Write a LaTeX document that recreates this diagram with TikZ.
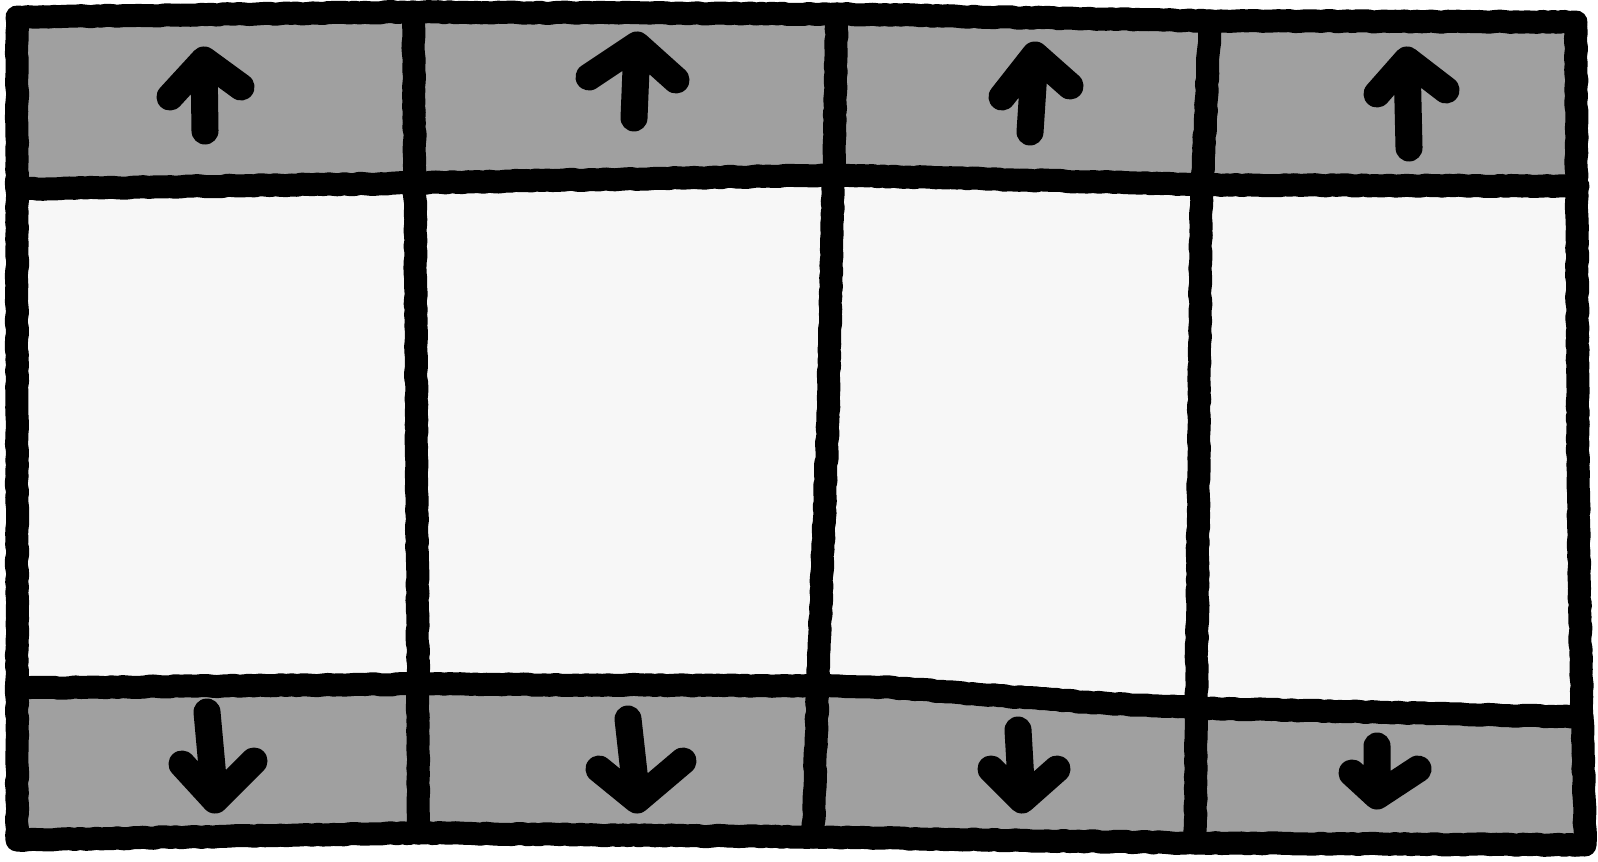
\documentclass[tikz,border=0pt]{standalone}
\usepackage{xcolor}
\usetikzlibrary{decorations.pathmorphing}
\definecolor{bandgray}{RGB}{160,160,160}
\definecolor{cellwhite}{RGB}{247,247,247}

\begin{document}
\begin{tikzpicture}[x=0.01cm, y=-0.01cm,
  inkline/.style={line width=0.23cm, line cap=round, line join=round,
    decorate, decoration={random steps, segment length=1.5pt, amplitude=.2pt}},
  inkarrow/.style={line width=0.27cm, line cap=round, line join=round}
  ]
  \useasboundingbox (0,0) rectangle (1598,861);
  % grid corners
  \coordinate (t0) at (17,17);   \coordinate (t1) at (413,12);
  \coordinate (t2) at (837,14);  \coordinate (t3) at (1210,21);
  \coordinate (t4) at (1576,22);
  \coordinate (a0) at (17,189);  \coordinate (a1) at (415,183);
  \coordinate (a2) at (835,175); \coordinate (a3) at (1205,185);
  \coordinate (a4) at (1578,186);
  \coordinate (b0) at (17,688);  \coordinate (b1) at (418,684);
  \coordinate (b2) at (820,686); \coordinate (b3) at (1197,708);
  \coordinate (b4) at (1582,717);
  \coordinate (f0) at (17,840);  \coordinate (f1) at (418,833);
  \coordinate (f2) at (813,837); \coordinate (f3) at (1195,843);
  \coordinate (f4) at (1585,845);
  % fills
  \fill[cellwhite] (t0) -- (t1) -- (t2) -- (t3) -- (t4) -- (1578,483)
    -- (1580,617) -- (f4) -- (f3) -- (f2) -- (f1) -- (f0) -- cycle;
  \fill[bandgray] (t0) -- (t1) -- (t2) -- (t3) -- (t4)
    -- (a4) -- (a3) -- (a2) -- (a1) -- (a0) -- cycle;
  \fill[bandgray] (b0) -- (b1) -- (b2) -- (883,687) -- (1083,702) -- (b3)
    -- (b4) -- (f4) -- (f3) -- (f2) -- (f1) -- (f0) -- cycle;
  % rows
  \draw[inkline] (a0) -- (a1) -- (a2) -- (a3) -- (a4);
  \draw[inkline] (b0) -- (b1) -- (b2) -- (883,687) -- (1083,702) -- (b3) -- (b4);
  % columns
  \draw[inkline] (t1) -- (a1) -- (b1) -- (f1);
  \draw[inkline] (t2) -- (834,150) -- (828,417) -- (823,550) -- (819,650) -- (f2);
  \draw[inkline] (t3) -- (1201,210) -- (1197,640) -- (f3);
  % border
  \draw[inkline] (t0) -- (t1) -- (t2) -- (t3) -- (t4) -- (1578,483)
    -- (1580,617) -- (f4) -- (f3) -- (f2) -- (f1) -- (f0) -- cycle;
  % up arrows
  \draw[inkarrow] (170,97) -- (204,60) -- (241,87) (204,60) -- (205,131);
  \draw[inkarrow] (589,77) -- (637,45) -- (676,80) (637,45) -- (634,118);
  \draw[inkarrow] (1002,97) -- (1035,55) -- (1070,86) (1035,55) -- (1030,132);
  \draw[inkarrow] (1377,94) -- (1407,60) -- (1446,90) (1407,60) -- (1409,148);
  % down arrows
  \draw[inkarrow] (182,764) -- (215,800) -- (254,761) (215,800) -- (207,712);
  \draw[inkarrow] (599,769) -- (637,800) -- (683,761) (637,800) -- (628,719);
  \draw[inkarrow] (991,769) -- (1022,800) -- (1057,769) (1022,800) -- (1018,730);
  \draw[inkarrow] (1352,773) -- (1377,796) -- (1418,769) (1377,796) -- (1377,746);
\end{tikzpicture}
\end{document}
